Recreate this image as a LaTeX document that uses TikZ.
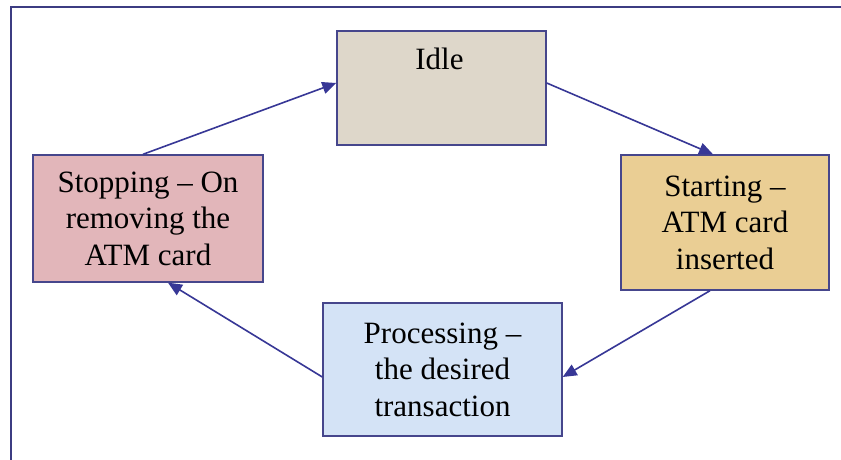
\documentclass[tikz,border=0pt]{standalone}
\usepackage{fontspec}
\setmainfont{Liberation Serif}
\usetikzlibrary{arrows.meta,calc}
\definecolor{framec}{RGB}{60,60,130}
\definecolor{edgec}{RGB}{70,70,140}
\definecolor{arrc}{RGB}{55,55,150}
\definecolor{idlefill}{RGB}{222,215,202}
\definecolor{stopfill}{RGB}{226,182,186}
\definecolor{startfill}{RGB}{234,206,148}
\definecolor{procfill}{RGB}{212,227,246}
\tikzset{
  box/.style={draw=edgec, line width=1.4pt, rectangle, inner sep=0pt, align=center,
    font=\fontsize{31}{36.5}\selectfont},
  txt/.style={inner sep=0pt, font=\fontsize{31}{36.5}\selectfont},
  flow/.style={draw=arrc, line width=1.6pt, -{Triangle[length=14pt,width=12pt]}},
}
\begin{document}
\begin{tikzpicture}[x=1pt,y=1pt]
\useasboundingbox (0,0) rectangle (841,460);
\fill[white] (0,0) rectangle (841,460);
% frame
\draw[framec, line width=1.7pt] (11,0) -- (11,453) -- (841,453);
% boxes (y = 460 - px)
\node[box, fill=idlefill, minimum width=209pt, minimum height=114pt] (idle) at (441.5,372) {};
\node[txt, anchor=base] (idletxt) at ($(idle.north)+(-2,-39)$) {Idle};
\node[box, fill=stopfill, minimum width=230pt, minimum height=127pt] (stop) at (148,241.5)
  {Stopping – On\\removing the\\ATM card};
\node[box, fill=startfill, minimum width=208pt, minimum height=135pt] (start) at (725,237.5)
  {Starting –\\ATM card\\inserted};
\node[box, fill=procfill, minimum width=239pt, minimum height=133pt] (proc) at (442.5,90.5)
  {Processing –\\the desired\\transaction};
% connectors
\draw[flow] ($(stop.north)+(-5,0)$) -- ($(idle.west)+(0,5)$);
\draw[flow] ($(idle.east)+(0,5)$) -- ($(start.north)+(-12,0)$);
\draw[flow] ($(start.south)+(-15,0)$) -- ($(proc.east)+(0,-7.5)$);
\draw[flow] ($(proc.west)+(0,-7.5)$) -- ($(stop.south)+(20,0)$);
\end{tikzpicture}
\end{document}
